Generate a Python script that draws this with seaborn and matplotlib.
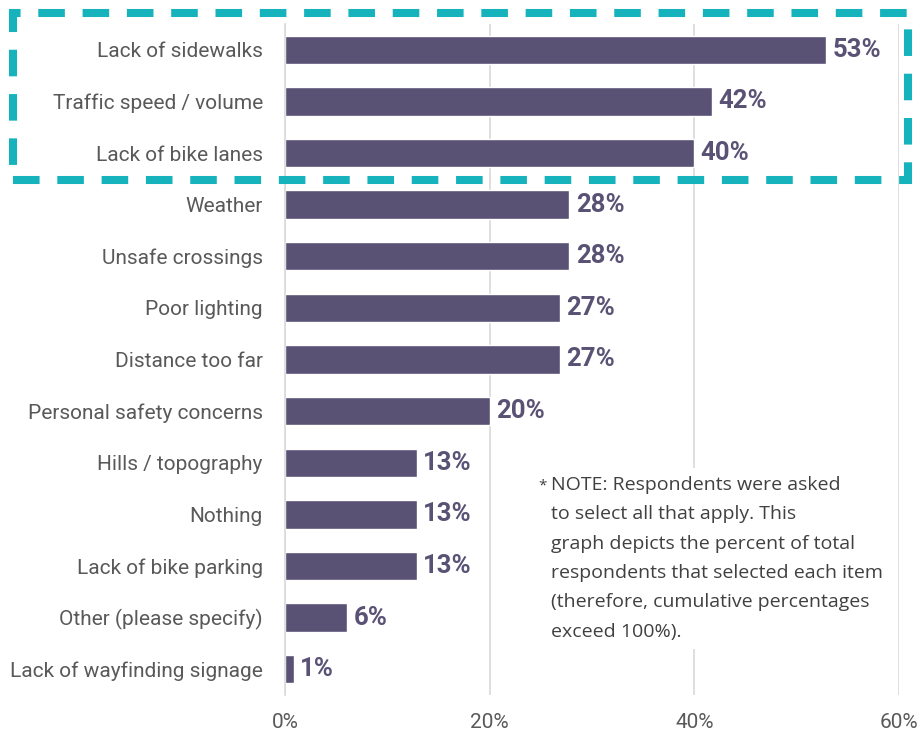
import numpy as np
import pandas as pd
import matplotlib
matplotlib.use("Agg")
import matplotlib.pyplot as plt
from matplotlib.patches import Rectangle
import seaborn as sns

categories = [
    "Lack of sidewalks",
    "Traffic speed / volume",
    "Lack of bike lanes",
    "Weather",
    "Unsafe crossings",
    "Poor lighting",
    "Distance too far",
    "Personal safety concerns",
    "Hills / topography",
    "Nothing",
    "Lack of bike parking",
    "Other (please specify)",
    "Lack of wayfinding signage",
]
values = [52.9, 41.7, 40.0, 27.8, 27.8, 26.9, 26.9, 20.0, 12.9, 12.9, 12.9, 6.1, 0.9]
labels = ["53%", "42%", "40%", "28%", "28%", "27%", "27%", "20%", "13%", "13%", "13%", "6%", "1%"]
xticks = [0, 20, 40, 60]

note = ("NOTE: Respondents were asked\n"
        "to select all that apply. This\n"
        "graph depicts the percent of total\n"
        "respondents that selected each item\n"
        "(therefore, cumulative percentages\n"
        "exceed 100%).")

df = pd.DataFrame({"item": categories, "pct": values})

sns.set_style("white")
plt.rcParams["font.family"] = ["Roboto", "DejaVu Sans"]

bar_color = "#5A5275"
text_color = "#595959"
grid_color = "#D9D9D9"

fig = plt.figure(figsize=(9.22, 7.36), dpi=100)
ax = fig.add_axes([285 / 922, 1 - 695 / 736, (899 - 285) / 922, (695 - 24) / 736])

sns.barplot(data=df, x="pct", y="item", color=bar_color, width=0.55,
            saturation=1, ax=ax, zorder=2)

ax.set_xlim(0, 60)
ax.set_ylim(len(categories) - 0.5, -0.5)
ax.set_xticks(xticks)
ax.set_xticklabels([f"{t}%" for t in xticks], fontsize=15, color=text_color)
ax.tick_params(axis="x", length=0, pad=13)
ax.tick_params(axis="y", length=0, pad=16, labelsize=15, labelcolor=text_color)
ax.set_yticks(np.arange(len(categories) + 1) - 0.5, minor=True)
ax.tick_params(axis="y", which="minor", length=6, color=grid_color, width=1.2)
ax.set_xlabel("")
ax.set_ylabel("")
ax.xaxis.grid(True, color=grid_color, linewidth=1.2, zorder=0)
ax.set_axisbelow(True)
for s in ["top", "right", "bottom"]:
    ax.spines[s].set_visible(False)
ax.spines["left"].set_color(grid_color)
ax.spines["left"].set_linewidth(1.2)

for i, (v, lab) in enumerate(zip(values, labels)):
    ax.text(v + 0.6, i, lab, va="center", ha="left", fontsize=18.5,
            fontweight="bold", color=bar_color, zorder=3)

# note box (white background hides the gridline behind it)
fig.text(538 / 922, 1 - 478 / 736, "*", ha="left", va="top", fontsize=11,
         family=["Open Sans", "DejaVu Sans"], color="#404040", zorder=6)
fig.text(551 / 922, 1 - 476 / 736, note, ha="left", va="top", fontsize=14,
         family=["Open Sans", "DejaVu Sans"], color="#404040",
         linespacing=1.81,
         bbox=dict(facecolor="white", edgecolor="none", pad=6), zorder=5)

# dashed highlight around the top three items
rect = Rectangle((12.5 / 922, 1 - 180 / 736), (907.5 - 12.5) / 922, (180 - 13) / 736,
                 transform=fig.transFigure, fill=False, edgecolor="#17B3BD",
                 linewidth=5.8, linestyle=(0, (3.3, 2.2)), zorder=10)
fig.add_artist(rect)

fig.savefig("out.png", dpi=100)
